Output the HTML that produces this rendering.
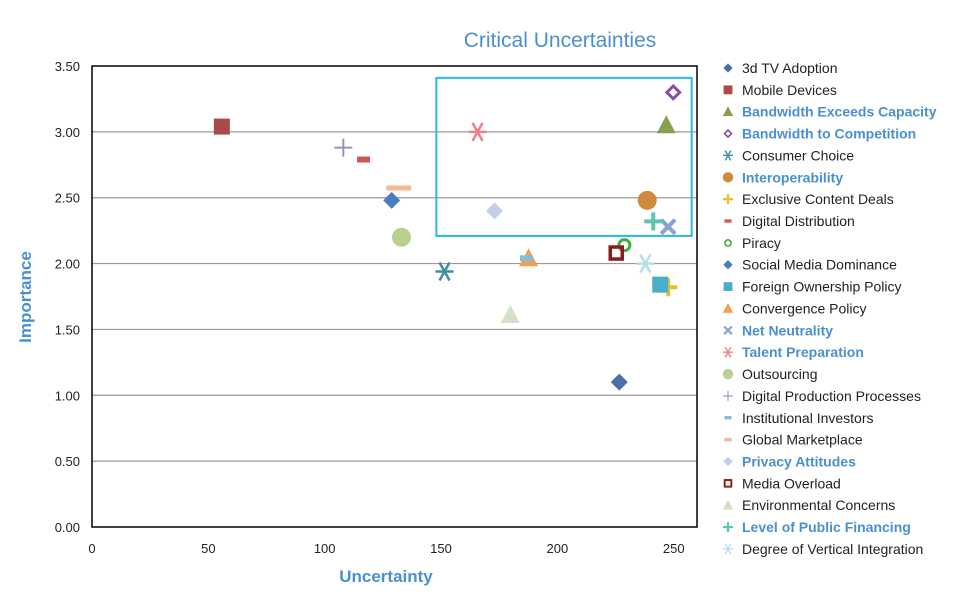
<!DOCTYPE html>
<html><head><meta charset="utf-8"><style>
body{margin:0;background:#fff;width:965px;height:599px;overflow:hidden;font-family:"Liberation Sans",sans-serif}
svg text{font-family:"Liberation Sans",sans-serif}
</style></head><body>
<svg id="chart" width="965" height="599" xmlns="http://www.w3.org/2000/svg"></svg>
<script>
const names=["3d TV Adoption","Mobile Devices","Bandwidth Exceeds Capacity","Bandwidth to Competition","Consumer Choice","Interoperability","Exclusive Content Deals","Digital Distribution","Piracy","Social Media Dominance","Foreign Ownership Policy","Convergence Policy","Net Neutrality","Talent Preparation","Outsourcing","Digital Production Processes","Institutional Investors","Global Marketplace","Privacy Attitudes","Media Overload","Environmental Concerns","Level of Public Financing","Degree of Vertical Integration"];
const uncertainty=[226.6,55.8,246.8,249.8,151.5,238.6,247.6,116.7,228.8,128.8,244.2,187.6,247.6,165.7,133,108,186.7,131.8,173,225.3,179.8,241.2,237.8];
const importance=[1.10,3.04,3.05,3.30,1.94,2.48,1.82,2.79,2.14,2.48,1.84,2.04,2.28,3.00,2.20,2.88,2.04,2.57,2.40,2.08,1.61,2.32,2.00];
const highlighted=[false,false,true,true,false,true,false,false,false,false,false,false,true,true,false,false,false,false,true,false,false,true,false];
const xTicks=[0,50,100,150,200,250];
const yTicks=[0,0.5,1,1.5,2,2.5,3,3.5];
const highlightBox=[148,257.7,2.21,3.41];
const shapes=["diamond","square","triangle","hdiamond","asterisk","circle","plus","dash","hcircle","diamond","square","triangle","x","asterisk","circle","thinplus","dash","dash","diamond","hsquare","triangle","plus","asterisk"];
const colors=["#4a6fa5","#a94a47","#86a050","#8a4ea8","#3f8fa0","#d08a40","#e8c020","#c85a55","#3fb040","#4a7cc0","#4aaec8","#f0a050","#8aa2d0","#f08088","#b8cf90","#a090c0","#80c0d8","#f6b890","#c4cfe6","#8b1a1a","#d4e0c8","#5cc4b0","#b8dce8"];
const svg=document.getElementById('chart');const NS='http://www.w3.org/2000/svg';
const X0=92,X1=697,Y0=527,Y1=66;
const xs=v=>X0+v*(X1-X0)/260, ys=v=>Y0-v*(Y0-Y1)/3.5;
function mk(t,a,p){const e=document.createElementNS(NS,t);for(const k in a)e.setAttribute(k,a[k]);(p||svg).appendChild(e);return e;}
function txt(x,y,s,a){const e=mk('text',Object.assign({x:x,y:y},a));e.textContent=s;return e;}
let t=txt(560,47,"Critical Uncertainties",{'text-anchor':'middle','font-size':21,fill:'#4a90d0'});

yTicks.forEach(v=>{
 if(v>0&&v<3.5){let l=mk('line',{x1:X0,x2:X1,y1:ys(v),y2:ys(v),stroke:'#999','stroke-width':1.2});}
 let e=txt(80,ys(v)+5,v.toFixed(2),{'text-anchor':'end','font-size':13,fill:'#222'});
 
});
xTicks.forEach(v=>{let e=txt(xs(v),553,String(v),{'text-anchor':'middle','font-size':13,fill:'#222'});
 });
let fr=mk('rect',{x:X0,y:Y1,width:X1-X0,height:Y0-Y1,fill:'none',stroke:'#000','stroke-width':1.5});

let hb=mk('rect',{x:xs(highlightBox[0]),y:ys(highlightBox[3]),width:xs(highlightBox[1])-xs(highlightBox[0]),height:ys(highlightBox[2])-ys(highlightBox[3]),fill:'none',stroke:'#29b8e8','stroke-width':2});

t=txt(386,582,"Uncertainty",{'text-anchor':'middle','font-size':17,'font-weight':'bold',fill:'#4a90d0'});

t=txt(31,297,"Importance",{'text-anchor':'middle','font-size':17,'font-weight':'bold',fill:'#4a90d0',transform:'rotate(-90 31 297)'});

function marker(s,x,y,c,k,g){
 k=k||1;
 switch(s){
 case 'diamond':mk('rect',{x:x-6*k,y:y-6*k,width:12*k,height:12*k,fill:c,transform:`rotate(45 ${x} ${y})`},g);break;
 case 'hdiamond':mk('rect',{x:x-4.5*k,y:y-4.5*k,width:9*k,height:9*k,fill:'none',stroke:c,'stroke-width':3*k,transform:`rotate(45 ${x} ${y})`},g);break;
 case 'square':mk('rect',{x:x-8*k,y:y-8*k,width:16*k,height:16*k,fill:c},g);break;
 case 'hsquare':mk('rect',{x:x-6*k,y:y-6*k,width:12*k,height:12*k,fill:'none',stroke:c,'stroke-width':3.5*k},g);break;
 case 'triangle':mk('polygon',{points:`${x},${y-10*k} ${x+9.5*k},${y+8*k} ${x-9.5*k},${y+8*k}`,fill:c},g);break;
 case 'circle':mk('circle',{cx:x,cy:y,r:9.5*k,fill:c},g);break;
 case 'hcircle':mk('circle',{cx:x,cy:y,r:5.5*k,fill:'none',stroke:c,'stroke-width':3*k},g);break;
 case 'plus':mk('path',{d:`M${x-9*k} ${y}H${x+9*k}M${x} ${y-9*k}V${y+9*k}`,stroke:c,'stroke-width':4*k},g);break;
 case 'thinplus':mk('path',{d:`M${x-9*k} ${y}H${x+9*k}M${x} ${y-9*k}V${y+9*k}`,stroke:c,'stroke-width':2*k},g);break;
 case 'x':mk('path',{d:`M${x-7*k} ${y-7*k}L${x+7*k} ${y+7*k}M${x+7*k} ${y-7*k}L${x-7*k} ${y+7*k}`,stroke:c,'stroke-width':4*k},g);break;
 case 'asterisk':mk('path',{d:`M${x-9*k} ${y}H${x+9*k}M${x-5*k} ${y-9*k}L${x+5*k} ${y+9*k}M${x+5*k} ${y-9*k}L${x-5*k} ${y+9*k}`,stroke:c,'stroke-width':2.5*k},g);break;
 case 'dash':mk('rect',{x:x-6.5*k,y:y-3*k,width:13*k,height:6*k,fill:c},g);break;
 }
}
names.forEach((n,i)=>{
 const g=mk('g',{});
 
 
 let c=colors[i],sh=shapes[i];
 if(i===17){mk('rect',{x:xs(uncertainty[i])-12.5,y:ys(importance[i])-3,width:25,height:5,fill:c},g);}
 else if(i===7){mk('rect',{x:xs(uncertainty[i])-6.5,y:ys(importance[i])-3,width:13,height:6,fill:c},g);}
 else marker(sh,xs(uncertainty[i]),ys(importance[i]),c,1,g);
 const lg=mk('g',{});
 
 
 const ly=68+i*21.86;
 marker(sh,728,ly,c,0.55,lg);
 let e=txt(742,ly+5,n,{'font-size':14,fill:highlighted[i]?'#4a90d0':'#222','font-weight':highlighted[i]?'bold':'normal'},lg);
});
</script>
</body></html>
